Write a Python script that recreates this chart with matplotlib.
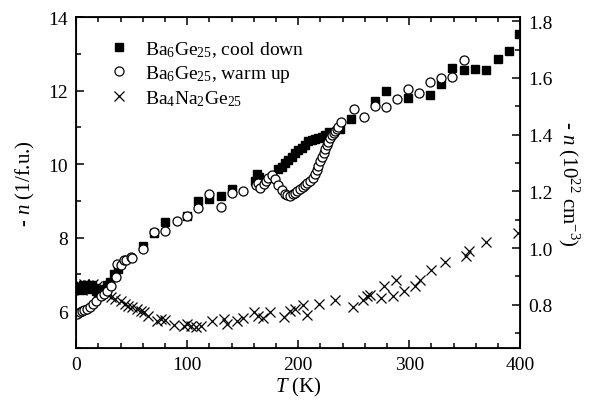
import matplotlib
matplotlib.use("Agg")
import matplotlib.pyplot as plt
from matplotlib.ticker import MultipleLocator

plt.rcParams["font.family"] = ["Liberation Serif", "DejaVu Serif"]
plt.rcParams["mathtext.fontset"] = "custom"
plt.rcParams["mathtext.rm"] = "Liberation Serif"
plt.rcParams["mathtext.it"] = "Liberation Serif:italic"

# Ba6Ge25, cool down (filled squares)
cool_T = [0, 2, 4, 6, 8, 10, 12, 14, 16, 18, 20, 22, 25, 28, 30, 34, 38,
          60, 70, 80, 100, 110, 120, 130, 140, 161, 163, 165, 182, 185, 188,
          191, 194, 197, 200, 203, 206, 209, 212, 215, 218, 221, 224, 228,
          238, 248, 269, 279, 299, 319, 329, 339, 349, 359, 369, 380, 390, 399]
cool_n = [6.6, 6.65, 6.58, 6.7, 6.62, 6.68, 6.6, 6.72, 6.64, 6.55, 6.5, 6.45,
          6.6, 6.72, 6.79, 7.01, 7.15,
          7.77, 8.12, 8.42, 8.58, 9.0, 9.05, 9.12, 9.31, 9.55, 9.73, 9.65,
          9.87, 9.93, 10.02, 10.12, 10.2, 10.3, 10.38, 10.45, 10.52, 10.62,
          10.66, 10.69, 10.72, 10.73, 10.78, 10.88,
          10.96, 11.23, 11.73, 12.0, 11.79, 11.87, 12.18, 12.61, 12.56, 12.59,
          12.55, 12.85, 13.07, 13.55]

# Ba6Ge25, warm up (open circles)
warm_T = [1, 3, 5, 7, 10, 12, 15, 18, 22, 25, 28, 31, 36, 37, 40, 43, 45,
          49, 50, 60, 70, 80, 91, 100, 110, 120, 130, 140, 150,
          162, 164, 166, 169, 171, 173, 176, 179, 182, 185, 188, 190, 193,
          195, 197, 199, 202, 204, 206, 208, 211, 213, 215, 217, 218, 220,
          221, 223, 224, 226, 227, 229, 230, 232, 233, 235, 236, 239,
          250, 259, 269, 279, 289, 299, 309, 319, 329, 339, 349]
warm_n = [5.93, 5.97, 6.0, 6.02, 6.06, 6.1, 6.2, 6.29, 6.42, 6.48, 6.56,
          6.69, 6.92, 7.29, 7.25, 7.4, 7.39, 7.47, 7.45, 7.68, 8.15, 8.19,
          8.44, 8.58, 8.81, 9.19, 8.83, 9.22, 9.26,
          9.42, 9.5, 9.35, 9.45, 9.55, 9.62, 9.7, 9.6, 9.42, 9.3, 9.2, 9.16,
          9.14, 9.18, 9.22, 9.28, 9.33, 9.38, 9.43, 9.48, 9.55, 9.62, 9.72,
          9.85, 9.96, 10.08, 10.19, 10.3, 10.42, 10.52, 10.6, 10.7, 10.78,
          10.85, 10.91, 10.96, 11.0, 11.14,
          11.5, 11.28, 11.58, 11.55, 11.76, 12.05, 11.93, 12.23, 12.33,
          12.37, 12.82]

# Ba4Na2Ge25 (crosses)
na_T = [1, 3, 5, 7, 9, 11, 13, 15, 17, 19, 21, 24, 28, 31, 35, 40, 44, 47,
        50, 55, 58, 61, 65, 73, 76, 80, 88, 97, 100, 103, 108, 112, 122,
        133, 136, 145, 150, 160, 164, 168, 175, 187, 193, 197, 204, 208,
        219, 233, 249, 258, 262, 265, 275, 277, 285, 288, 295, 305, 310,
        320, 332, 351, 354, 369, 398]
na_n = [6.62, 6.72, 6.58, 6.75, 6.65, 6.7, 6.6, 6.73, 6.62, 6.68, 6.55,
        6.58, 6.47, 6.38, 6.33, 6.29, 6.2, 6.15, 6.11, 6.06, 6.01, 5.97,
        5.88, 5.72, 5.79, 5.76, 5.63, 5.61, 5.65, 5.61, 5.56, 5.59, 5.72,
        5.79, 5.66, 5.74, 5.81, 5.97, 5.88, 5.82, 5.97, 5.84, 6.01, 6.05,
        6.18, 5.9, 6.2, 6.31, 6.11, 6.31, 6.41, 6.44, 6.35, 6.69, 6.41,
        6.86, 6.56, 6.69, 6.86, 7.13, 7.35, 7.49, 7.63, 7.89, 8.13]

# conversion from 1/f.u. to 10^22 cm^-3
per_fu_to_cm3 = 0.1296

fig = plt.figure(figsize=(6.0, 4.02), dpi=100)
ax = fig.add_axes([0.127, 0.132, 0.74, 0.823])

ax.plot(cool_T, cool_n, "s", color="black", markersize=5.4, linestyle="none",
        label="Ba$_6$Ge$_{25}$, cool down", zorder=3)
ax.plot(warm_T, warm_n, "o", markerfacecolor="white", markeredgecolor="black",
        markersize=6.5, markeredgewidth=0.9, linestyle="none",
        label="Ba$_6$Ge$_{25}$, warm up", zorder=4)
ax.plot(na_T, na_n, "x", color="black", markersize=7, markeredgewidth=0.9,
        linestyle="none", label="Ba$_4$Na$_2$Ge$_{25}$", zorder=2)

ax.set_xlim(0, 400)
ax.set_ylim(5, 14)
ax.xaxis.set_major_locator(MultipleLocator(100))
ax.xaxis.set_minor_locator(MultipleLocator(20))
ax.yaxis.set_major_locator(MultipleLocator(2))
ax.yaxis.set_minor_locator(MultipleLocator(1))
ax.tick_params(which="both", direction="in", top=True, right=False,
               labelsize=14, width=1.1, pad=6)
ax.tick_params(which="major", length=6)
ax.tick_params(which="minor", length=3.5)
for spine in ax.spines.values():
    spine.set_linewidth(1.3)

ax.set_xlabel("$T$ (K)", fontsize=15, labelpad=1)
ax.set_ylabel("- $n$ (1/f.u.)", fontsize=15, labelpad=8)

ax2 = ax.twinx()
ax2.set_ylim(5 * per_fu_to_cm3, 14 * per_fu_to_cm3)
ax2.yaxis.set_major_locator(MultipleLocator(0.2))
ax2.yaxis.set_minor_locator(MultipleLocator(0.1))
ax2.tick_params(which="both", direction="in", labelsize=14, width=1.1, pad=6)
ax2.tick_params(which="major", length=6)
ax2.tick_params(which="minor", length=3.5)
ax2.set_ylabel("- $n$ (10$^{22}$ cm$^{-3}$)", fontsize=15, rotation=270,
               labelpad=20)

ax.legend(loc="upper left", frameon=False, fontsize=14, handlelength=1.0,
          handletextpad=0.8, borderaxespad=0.4, labelspacing=0.2,
          bbox_to_anchor=(0.04, 0.98))

fig.savefig("out.png", dpi=100)
